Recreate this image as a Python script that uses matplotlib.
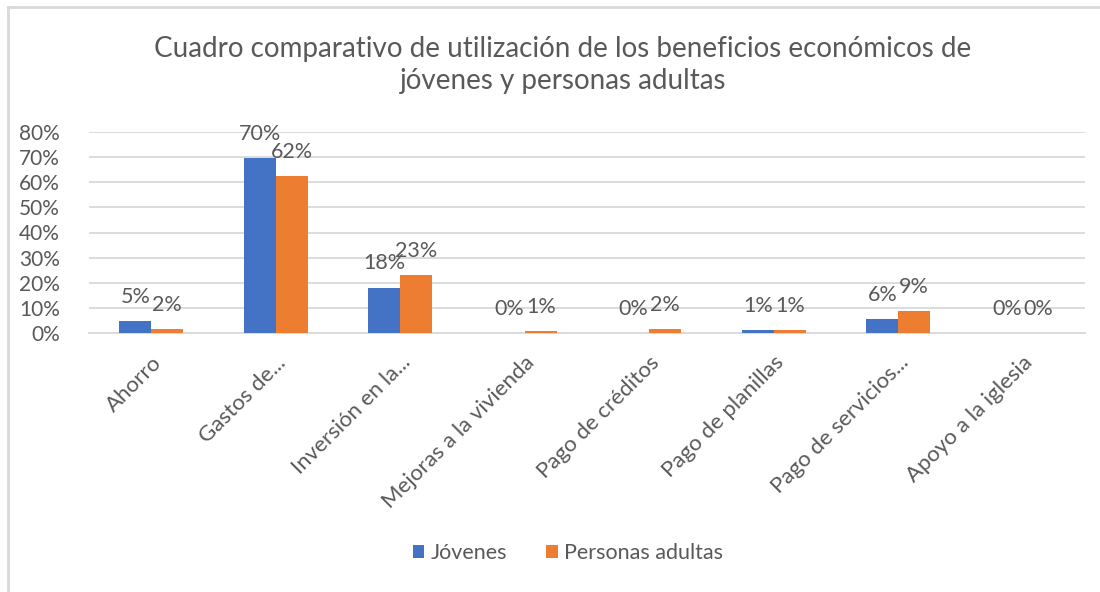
import matplotlib
matplotlib.use("Agg")
import matplotlib.pyplot as plt
from matplotlib.lines import Line2D
import numpy as np

categories = ["Ahorro", "Gastos de...", "Inversión en la...", "Mejoras a la vivienda",
              "Pago de créditos", "Pago de planillas", "Pago de servicios...", "Apoyo a la iglesia"]
jovenes = [4.8, 69.7, 18.0, 0.0, 0.0, 1.2, 5.6, 0.0]
adultos = [1.6, 62.4, 23.0, 0.6, 1.6, 1.2, 8.6, 0.0]
yticks = [0, 10, 20, 30, 40, 50, 60, 70, 80]
title = "Cuadro comparativo de utilización de los beneficios económicos de\njóvenes y personas adultas"

plt.rcParams['font.family'] = ['Lato', 'DejaVu Sans']
gray = "#595959"
blue = "#4472C4"
orange = "#ED7D31"

fig = plt.figure(figsize=(11, 5.92), dpi=100)
ax = fig.add_axes([89/1100, 1-333/592, (1085-89)/1100, (333-132)/592])

x = np.arange(len(categories))
w = 0.257
b1 = ax.bar(x - w/2, jovenes, w, color=blue, label="Jóvenes", zorder=3)
b2 = ax.bar(x + w/2, adultos, w, color=orange, label="Personas adultas", zorder=3)

for bars, vals in ((b1, jovenes), (b2, adultos)):
    for r, v in zip(bars, vals):
        ax.annotate(f"{round(v):d}%", (r.get_x() + r.get_width()/2, v),
                    xytext=(0, 17.5), textcoords="offset points",
                    ha="center", va="center", fontsize=15.5, color=gray, zorder=4)

ax.set_xlim(-0.5, len(categories) - 0.5)
ax.set_ylim(0, 80)
ax.set_yticks(yticks)
ax.set_yticklabels([f"{t}%" for t in yticks], fontsize=15, color=gray)
ax.yaxis.grid(True, color="#D9D9D9", linewidth=1.3, zorder=0)
ax.tick_params(axis="both", length=0)
ax.tick_params(axis="y", pad=21)
for s in ["top", "right", "left"]:
    ax.spines[s].set_visible(False)
ax.spines["bottom"].set_color("#D9D9D9")
ax.spines["bottom"].set_linewidth(1.3)

ax.set_xticks(x)
ax.set_xticklabels(categories, rotation=45, ha="right", va="top",
                   rotation_mode="anchor", fontsize=16, color=gray)
ax.tick_params(axis="x", pad=14)

fig.text(563/1100, 1-65/592, title, ha="center", va="center", fontsize=20,
         color=gray, linespacing=1.3)

leg = fig.legend(handles=[b1, b2], loc="center", bbox_to_anchor=(568/1100, 1-553/592),
                 ncol=2, frameon=False, fontsize=15.5, handlelength=0.55, handleheight=0.55,
                 handletextpad=0.3, columnspacing=1.8)
for t in leg.get_texts():
    t.set_color(gray)

fig.add_artist(Line2D([8/1100, 1], [1-7/592, 1-7/592], color="#D9D9D9", linewidth=2,
                      transform=fig.transFigure))
fig.add_artist(Line2D([8/1100, 8/1100], [0, 1-7/592], color="#D9D9D9", linewidth=2,
                      transform=fig.transFigure))

fig.savefig("out.png", dpi=100, facecolor="white")
